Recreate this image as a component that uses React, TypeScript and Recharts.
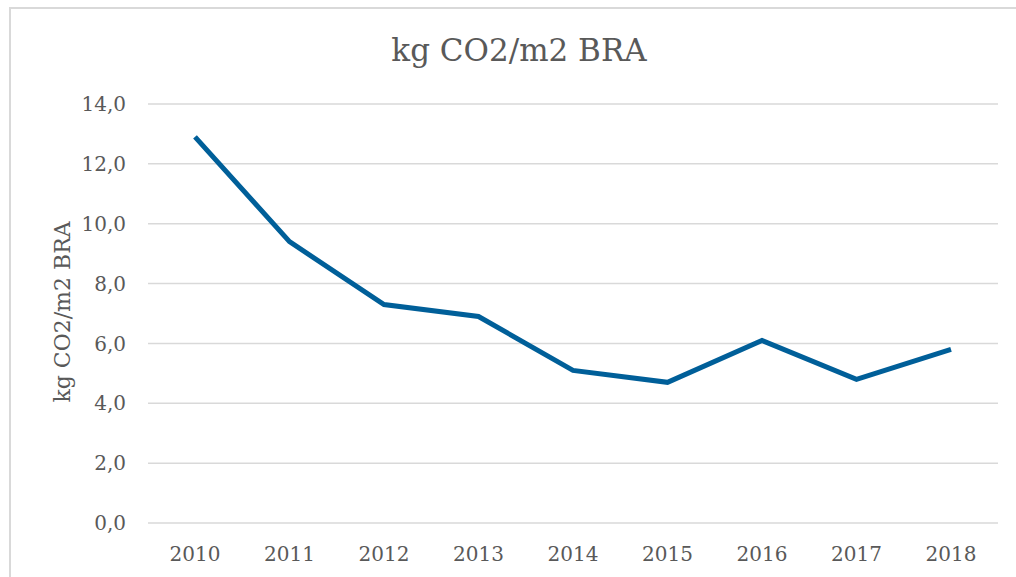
import React from 'react';
import { LineChart, Line, XAxis, YAxis, CartesianGrid } from 'recharts';

const years = ['2010', '2011', '2012', '2013', '2014', '2015', '2016', '2017', '2018'];
const values = [12.9, 9.4, 7.3, 6.9, 5.1, 4.7, 6.1, 4.8, 5.8];
const yTicks = [0, 2, 4, 6, 8, 10, 12, 14];
const title = 'kg CO2/m2 BRA';
const yLabel = 'kg CO2/m2 BRA';

const data = years.map((y, i) => ({ year: y, value: values[i] }));

const FONT = '"DejaVu Serif", serif';
const TEXT = '#595959';

export default function App() {
  return (
    <div style={{ position: 'absolute', left: 0, top: 0, width: 1016, height: 577, overflow: 'hidden', background: '#fff' }}>
      <div style={{ position: 'absolute', left: 9, top: 7, width: 1100, height: 700, border: '2px solid #d9d9d9' }} />
      <div style={{ position: 'absolute', left: 0, top: 0 }}>
        <LineChart width={1016} height={577} data={data} margin={{ top: 104, right: 18, bottom: 14, left: 0 }}>
          <CartesianGrid vertical={false} stroke="#d9d9d9" strokeWidth={1.5} />
          <XAxis
            dataKey="year"
            axisLine={false}
            tickLine={false}
            height={40}
            tickMargin={18}
            padding={{ left: 47, right: 47 }}
            tick={{ fill: TEXT, fontSize: 20, fontFamily: FONT }}
          />
          <YAxis
            domain={[0, 14]}
            ticks={yTicks}
            width={148}
            axisLine={false}
            tickLine={false}
            tickMargin={16}
            tickFormatter={(v: number) => v.toFixed(1).replace('.', ',')}
            tick={{ fill: TEXT, fontSize: 20, fontFamily: FONT }}
            label={{
              content: () => (
                <text x={62} y={312} transform="rotate(-90 62 312)" textAnchor="middle" dominantBaseline="central" fill={TEXT} fontSize={22} fontFamily={FONT}>
                  {yLabel}
                </text>
              ),
            }}
          />
          <Line type="linear" dataKey="value" stroke="#005f99" strokeWidth={5} dot={false} isAnimationActive={false} />
        </LineChart>
      </div>
      <div style={{ position: 'absolute', left: 0, width: 1038, top: 30, textAlign: 'center', fontFamily: FONT, fontSize: 31, color: TEXT, lineHeight: '40px' }}>
        {title}
      </div>
    </div>
  );
}
